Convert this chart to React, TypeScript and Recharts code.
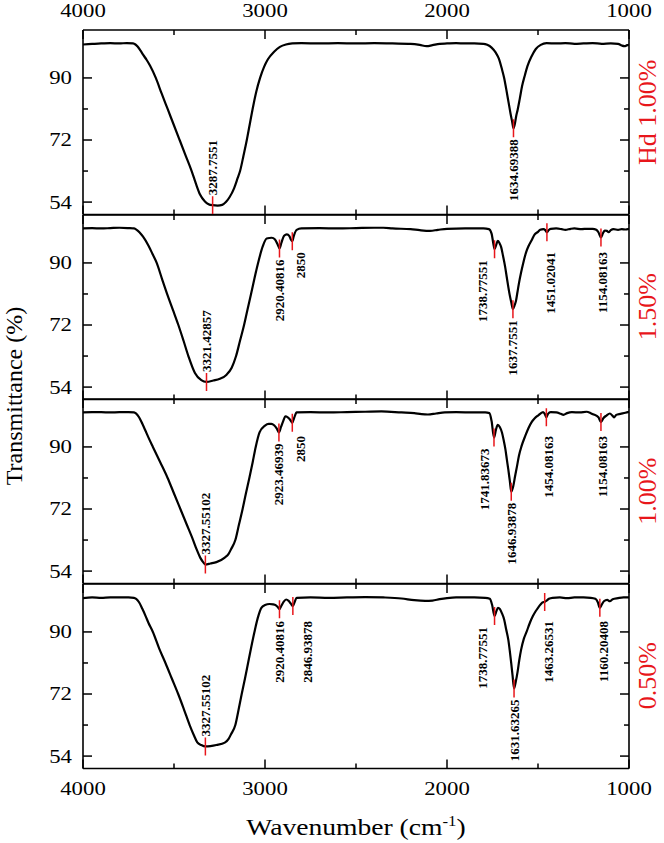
import React from 'react';
import { ComposedChart, Line, Scatter, XAxis, YAxis } from 'recharts';

type Pt = [number, number];

// FTIR spectra: [wavenumber (cm-1), transmittance (%)]
const hdRef: Pt[] = [
  [4000, 99.7], [3950, 99.9], [3900, 100.0], [3850, 100.1], [3800, 100.0], [3760, 100.1],
  [3725, 100.0], [3712, 99.7], [3700, 99.1], [3685, 98.0], [3668, 96.6], [3650, 95.2],
  [3632, 93.6], [3600, 90.0], [3568, 85.5], [3535, 81.0], [3502, 76.5], [3469, 72.0],
  [3436, 67.5], [3403, 63.0], [3380, 59.4], [3357, 56.2], [3330, 54.2], [3310, 53.4],
  [3287.7551, 53.1], [3260, 53.0], [3235, 53.2], [3215, 54.0], [3195, 55.4], [3170, 58.0],
  [3150, 61.0], [3137, 63.0], [3118, 67.5], [3100, 72.0], [3084, 76.5], [3068, 81.0],
  [3048, 86.0], [3027, 90.0], [3005, 93.2], [2984, 95.4], [2950, 97.6], [2918, 99.0],
  [2885, 99.7], [2850, 100.0], [2800, 100.1], [2700, 100.0], [2600, 100.1], [2500, 100.0],
  [2400, 100.1], [2300, 100.0], [2200, 99.9], [2150, 99.6], [2112, 99.2], [2080, 99.5],
  [2040, 99.9], [2000, 100.0], [1950, 100.1], [1900, 100.0], [1850, 100.0], [1800, 99.9],
  [1779, 99.6], [1755, 98.8], [1733, 97.4], [1715, 95.6], [1698, 92.5], [1686, 90.0],
  [1674, 86.6], [1662, 83.0], [1651, 79.7], [1642, 77.3], [1634.69388, 75.4], [1626, 77.0],
  [1620, 78.9], [1612, 80.7], [1600, 84.0], [1588, 87.5], [1572, 90.8], [1558, 93.4],
  [1535, 96.3], [1512, 98.4], [1485, 99.6], [1453, 100.1], [1400, 100.0], [1350, 100.1],
  [1300, 99.9], [1250, 100.0], [1200, 100.1], [1150, 99.9], [1100, 100.0], [1060, 99.9],
  [1040, 99.4], [1025, 99.2], [1010, 99.5], [1000, 99.6],
];

const c150: Pt[] = [
  [4000, 100.0], [3950, 100.1], [3900, 100.0], [3850, 100.1], [3800, 100.2], [3750, 100.1],
  [3720, 100.0], [3705, 99.6], [3690, 98.9], [3670, 97.6], [3640, 95.0], [3618, 92.6],
  [3595, 90.0], [3566, 85.4], [3537, 80.9], [3506, 76.4], [3476, 72.0], [3448, 67.5],
  [3421, 63.0], [3385, 58.1], [3350, 56.0], [3321.42857, 55.5], [3284, 55.9], [3248, 56.4],
  [3211, 57.6], [3183, 59.6], [3159, 63.0], [3137, 67.5], [3115, 72.0], [3096, 76.5],
  [3077, 80.9], [3058, 85.5], [3038, 90.0], [3013, 94.7], [2991, 97.1], [2963, 97.3],
  [2945, 96.8], [2930, 95.3], [2920.40816, 94.2], [2910, 95.8], [2895, 97.9], [2880, 98.3],
  [2866, 97.8], [2858, 96.8], [2850, 96.3], [2842, 97.8], [2826, 99.6], [2800, 100.0],
  [2700, 100.1], [2600, 100.0], [2500, 100.1], [2400, 100.2], [2350, 100.2], [2300, 100.0],
  [2200, 99.8], [2150, 99.5], [2093, 99.3], [2050, 99.6], [2000, 99.9], [1900, 100.0],
  [1800, 100.0], [1770, 99.8], [1755, 98.5], [1745, 95.5], [1738.77551, 94.0], [1730, 95.2],
  [1721, 96.4], [1712, 95.8], [1702, 94.5], [1692, 92.0], [1681, 89.0], [1672, 86.0],
  [1663, 83.0], [1655, 80.6], [1647, 78.6], [1637.7551, 76.6], [1628, 77.8], [1621, 79.0],
  [1613, 81.5], [1605, 84.0], [1593, 87.2], [1581, 90.0], [1566, 93.0], [1551, 95.0],
  [1535, 96.6], [1519, 98.2], [1500, 99.0], [1488, 99.6], [1470, 99.8], [1460, 99.5],
  [1451.02041, 98.9], [1442, 99.5], [1430, 99.9], [1400, 100.0], [1370, 99.8], [1350, 99.6],
  [1320, 99.9], [1300, 100.0], [1260, 99.8], [1230, 99.9], [1200, 99.9], [1180, 99.6],
  [1168, 98.9], [1154.08163, 97.4], [1143, 98.6], [1133, 99.4], [1122, 99.3], [1112, 98.9],
  [1100, 99.5], [1085, 99.8], [1060, 99.6], [1040, 99.8], [1020, 99.7], [1000, 99.9],
];

const c100: Pt[] = [
  [4000, 100.0], [3950, 100.1], [3900, 100.1], [3850, 100.0], [3800, 100.1], [3750, 100.1],
  [3720, 100.0], [3709, 99.7], [3692, 98.6], [3674, 96.7], [3656, 94.6], [3640, 92.7],
  [3616, 90.0], [3575, 85.5], [3535, 81.0], [3500, 76.5], [3465, 72.0], [3430, 67.5],
  [3395, 63.0], [3375, 60.2], [3356, 57.9], [3340, 56.6], [3327.55102, 55.9], [3300, 56.2],
  [3267, 56.6], [3221, 57.9], [3200, 59.0], [3186, 60.4], [3163, 63.0], [3143, 67.5],
  [3123, 72.0], [3105, 76.5], [3086, 81.0], [3068, 85.5], [3051, 90.0], [3030, 94.2],
  [3000, 96.2], [2980, 96.7], [2965, 96.7], [2950, 96.3], [2935, 95.3], [2923.46939, 94.2],
  [2912, 95.8], [2900, 97.5], [2888, 98.9], [2875, 98.6], [2862, 97.9], [2850, 97.0],
  [2840, 98.4], [2826, 100.0], [2750, 100.1], [2650, 100.0], [2550, 100.1], [2450, 100.2],
  [2360, 100.3], [2250, 100.0], [2180, 99.8], [2140, 99.5], [2105, 99.4], [2060, 99.7],
  [2012, 100.0], [1950, 100.1], [1850, 100.0], [1790, 100.0], [1767, 99.8], [1755, 97.5],
  [1741.83673, 92.7], [1731, 95.0], [1721, 96.4], [1710, 95.8], [1698, 94.2], [1688, 91.8],
  [1679, 89.3], [1671, 86.3], [1663, 83.4], [1655, 80.2], [1646.93878, 77.0], [1636, 78.6],
  [1626, 81.5], [1615, 84.5], [1605, 87.4], [1590, 90.3], [1570, 93.2], [1552, 95.5],
  [1535, 97.2], [1518, 98.3], [1500, 99.1], [1472, 100.1], [1462, 99.5], [1454.08163, 98.6],
  [1445, 99.6], [1430, 100.1], [1400, 100.0], [1375, 99.6], [1360, 99.3], [1340, 99.8],
  [1314, 100.1], [1270, 100.0], [1233, 100.2], [1210, 99.8], [1198, 99.5], [1168, 98.6],
  [1154.08163, 97.2], [1140, 98.4], [1124, 99.1], [1105, 99.7], [1090, 99.0], [1081, 98.6],
  [1070, 99.3], [1047, 99.6], [1020, 99.9], [1000, 100.2],
];

const c050: Pt[] = [
  [4000, 99.8], [3950, 100.0], [3900, 99.9], [3850, 100.0], [3800, 100.0], [3750, 100.0],
  [3720, 99.9], [3708, 99.6], [3692, 98.6], [3674, 96.7], [3656, 94.6], [3640, 92.6],
  [3616, 90.0], [3580, 85.0], [3547, 81.0], [3512, 76.5], [3477, 72.0], [3445, 67.5],
  [3414, 63.0], [3392, 60.2], [3372, 58.0], [3350, 57.2], [3327.55102, 56.8], [3300, 56.9],
  [3267, 57.2], [3221, 57.9], [3200, 59.0], [3186, 60.4], [3163, 63.0], [3145, 67.5],
  [3128, 72.0], [3110, 76.5], [3093, 81.0], [3076, 85.5], [3058, 90.0], [3040, 94.0],
  [3020, 97.0], [3000, 97.8], [2975, 98.1], [2955, 98.0], [2940, 97.7], [2930, 97.2],
  [2920.40816, 96.6], [2910, 97.6], [2897, 98.8], [2884, 99.4], [2870, 99.0], [2858, 98.2],
  [2846.93878, 97.5], [2837, 98.7], [2826, 99.9], [2750, 100.0], [2650, 99.9], [2550, 100.0],
  [2450, 100.1], [2350, 100.0], [2250, 99.7], [2180, 99.2], [2120, 99.0], [2080, 99.1],
  [2040, 99.5], [2000, 99.8], [1950, 100.0], [1850, 100.0], [1790, 99.9], [1765, 99.6],
  [1752, 97.8], [1738.77551, 94.6], [1729, 96.0], [1720, 97.0], [1709, 96.6], [1698, 95.4],
  [1686, 93.6], [1675, 90.8], [1663, 87.7], [1655, 84.5], [1647, 80.9], [1640, 77.5],
  [1631.63265, 73.6], [1622, 75.6], [1612, 78.5], [1603, 81.8], [1593, 84.8], [1578, 88.0],
  [1563, 90.0], [1545, 92.6], [1528, 94.6], [1513, 96.0], [1500, 97.0], [1485, 98.0],
  [1473, 98.6], [1463.26531, 98.7], [1455, 99.0], [1440, 99.6], [1420, 99.9], [1380, 100.0],
  [1340, 99.8], [1300, 100.0], [1250, 100.0], [1210, 99.9], [1185, 99.6], [1172, 98.7],
  [1160.20408, 97.0], [1150, 97.9], [1138, 98.9], [1120, 99.3], [1105, 98.9], [1090, 99.5],
  [1060, 99.8], [1030, 100.0], [1000, 100.0],
];

// labelled band positions, one list per sample
const peaksHdRef = ['3287.7551', '1634.69388'];
const peaks150 = ['3321.42857', '2920.40816', '2850', '1738.77551', '1637.7551', '1451.02041', '1154.08163'];
const peaks100 = ['3327.55102', '2923.46939', '2850', '1741.83673', '1646.93878', '1454.08163', '1154.08163'];
const peaks050 = ['3327.55102', '2920.40816', '2846.93878', '1738.77551', '1631.63265', '1463.26531', '1160.20408'];

const sampleNames = ['Hd 1.00%', '1.50%', '1.00%', '0.50%'];

const xTicks = [4000, 3500, 3000, 2500, 2000, 1500, 1000];
const xTickLabels = [4000, 3000, 2000, 1000];
const yTicks = [54, 63, 72, 81, 90];
const yTickLabels = [54, 72, 90];

const spectra = [hdRef, c150, c100, c050];
const peakLists = [peaksHdRef, peaks150, peaks100, peaks050];

// layout
const W = 664;
const H = 843;
const PLOT_LEFT = 83;
const PLOT_RIGHT = 629;
const PLOT_TOP = 30;
const PANEL_H = 184.5;
const PAD = 34;
const Y_DOMAIN: [number, number] = [50.4, 103.9];
const FONT = "'Liberation Serif', 'Times New Roman', serif";
const RED = '#e8161b';
const STRETCH = 1.2;
const TICK_FS = 19;
const MAJOR = 9;
const MINOR = 5;
const AXIS = { stroke: '#000', strokeWidth: 1.6 };

// labels written above their band instead of below
const LABEL_ABOVE = new Set(['3287.7551', '3321.42857', '3327.55102']);
// sideways shift of crowded labels, px
const LABEL_NUDGE: Record<string, number> = {
  '2850': 8,
  '2846.93878': 15,
  '1738.77551': -12,
  '1741.83673': -9,
  '1451.02041': 4,
  '1454.08163': 2,
  '1463.26531': 4,
  '1154.08163': 2,
  '1160.20408': 4,
};

const tickText = (x: number, y: number, value: number, anchor: string, dy: string) => (
  <text
    transform={`translate(${x},${y}) scale(${STRETCH},1)`}
    textAnchor={anchor}
    dy={dy}
    fontFamily={FONT}
    fontSize={TICK_FS}
    fill="#000"
  >
    {value}
  </text>
);

// ticks point into the frame; the tick label sits tickMargin px outside it
const makeXTick = (side: 'top' | 'bottom', showLabels: boolean) => (props: any) => {
  const { x, y, payload } = props;
  const major = xTickLabels.includes(payload.value);
  const len = major ? MAJOR : MINOR;
  if (side === 'top') {
    const axisY = y + 13;
    return (
      <g>
        <line x1={x} x2={x} y1={axisY} y2={axisY + len} stroke="#000" strokeWidth={1.5} />
        {showLabels && major && tickText(x, y, payload.value, 'middle', '0')}
      </g>
    );
  }
  const axisY = y - 14;
  return (
    <g>
      <line x1={x} x2={x} y1={axisY} y2={axisY - len} stroke="#000" strokeWidth={1.5} />
      {showLabels && major && tickText(x, y, payload.value, 'middle', '0.68em')}
    </g>
  );
};

const LeftTick = (props: any) => {
  const { x, y, payload } = props;
  const major = yTickLabels.includes(payload.value);
  const axisX = x + 11;
  return (
    <g>
      <line x1={axisX} x2={axisX + (major ? MAJOR : MINOR)} y1={y} y2={y} stroke="#000" strokeWidth={1.5} />
      {major && tickText(x, y, payload.value, 'end', '0.34em')}
    </g>
  );
};

const RightTick = (props: any) => {
  const { x, y, payload } = props;
  const major = yTickLabels.includes(payload.value);
  return <line x1={x} x2={x - (major ? MAJOR : MINOR)} y1={y} y2={y} stroke="#000" strokeWidth={1.5} />;
};

const makePeakMark = (panelTop: number) => (props: any) => {
  const { cx, cy, payload } = props;
  const label: string = payload.label;
  const above = LABEL_ABOVE.has(label);
  const dx = LABEL_NUDGE[label] ?? 0;
  // labels under shallow dips all start at a common depth
  const ty = above ? cy - 10 : Math.max(cy + 11, panelTop + 37);
  return (
    <g>
      <line x1={cx} x2={cx} y1={cy - 9} y2={cy + 9} stroke={RED} strokeWidth={1.5} />
      <text
        transform={`translate(${cx + dx},${ty}) rotate(-90)`}
        textAnchor={above ? 'start' : 'end'}
        dominantBaseline="central"
        fontFamily={FONT}
        fontWeight="bold"
        fontSize={13}
        fill="#000"
      >
        {label}
      </text>
    </g>
  );
};

function Panel({ index }: { index: number }) {
  const spectrum = spectra[index];
  const top = PLOT_TOP + index * PANEL_H;
  const data = spectrum.map(([w, t]) => ({ w, t }));
  const marks = peakLists[index].map((label) => {
    const w = parseFloat(label);
    const hit = spectrum.find((p) => p[0] === w);
    return { w, t: hit ? hit[1] : NaN, label };
  });
  const PeakMark = makePeakMark(PAD);
  const xCommon = {
    dataKey: 'w',
    type: 'number' as const,
    domain: [1000, 4000],
    reversed: true,
    allowDataOverflow: true,
    ticks: xTicks,
    interval: 0 as const,
    height: PAD,
    tickSize: 0,
    tickLine: false,
    axisLine: AXIS,
  };
  const yCommon = {
    type: 'number' as const,
    domain: Y_DOMAIN,
    allowDataOverflow: true,
    ticks: yTicks,
    interval: 0 as const,
    tickSize: 0,
    tickLine: false,
    axisLine: AXIS,
  };
  return (
    <div style={{ position: 'absolute', left: 0, top: top - PAD }}>
      <ComposedChart
        width={W}
        height={PANEL_H + 2 * PAD}
        margin={{ top: 0, bottom: 0, left: 0, right: 0 }}
      >
        <XAxis {...xCommon} xAxisId="b" orientation="bottom" tickMargin={14} tick={makeXTick('bottom', index === 3)} />
        <XAxis {...xCommon} xAxisId="t" orientation="top" tickMargin={13} tick={makeXTick('top', index === 0)} />
        <YAxis {...yCommon} yAxisId="l" orientation="left" width={PLOT_LEFT} tickMargin={11} tick={LeftTick} />
        <YAxis {...yCommon} yAxisId="r" orientation="right" width={W - PLOT_RIGHT} tickMargin={0} tick={RightTick} />
        <Line
          xAxisId="b"
          yAxisId="l"
          data={data}
          dataKey="t"
          type="monotone"
          stroke="#000"
          strokeWidth={2.2}
          dot={false}
          isAnimationActive={false}
        />
        <Scatter
          xAxisId="b"
          yAxisId="l"
          data={marks}
          dataKey="t"
          shape={(p: any) => <PeakMark {...p} />}
          isAnimationActive={false}
        />
      </ComposedChart>
    </div>
  );
}

export default function App() {
  const plotBottom = PLOT_TOP + 4 * PANEL_H;
  return (
    <div style={{ position: 'absolute', left: 0, top: 0, width: W, height: H, background: '#fff' }}>
      {sampleNames.map((_, i) => (
        <Panel key={i} index={i} />
      ))}
      <svg width={W} height={H} style={{ position: 'absolute', left: 0, top: 0, pointerEvents: 'none' }}>
        <text
          transform={`translate(14,${(PLOT_TOP + plotBottom) / 2 - 3}) rotate(-90)`}
          textAnchor="middle"
          dominantBaseline="central"
          fontFamily={FONT}
          fontSize={24}
        >
          Transmittance (%)
        </text>
        <text
          transform={`translate(${(PLOT_LEFT + PLOT_RIGHT) / 2},835) scale(${STRETCH},1)`}
          textAnchor="middle"
          fontFamily={FONT}
          fontSize={23}
        >
          Wavenumber (cm<tspan dy={-9} fontSize={14}>-1</tspan>
          <tspan dy={9}>)</tspan>
        </text>
        {sampleNames.map((name, i) => (
          <text
            key={name + i}
            transform={`translate(647,${PLOT_TOP + (i + 0.5) * PANEL_H - (i === 0 ? 10 : 0)}) rotate(-90)`}
            textAnchor="middle"
            dominantBaseline="central"
            fontFamily={FONT}
            fontSize={26}
            fill={RED}
          >
            {name}
          </text>
        ))}
      </svg>
    </div>
  );
}
